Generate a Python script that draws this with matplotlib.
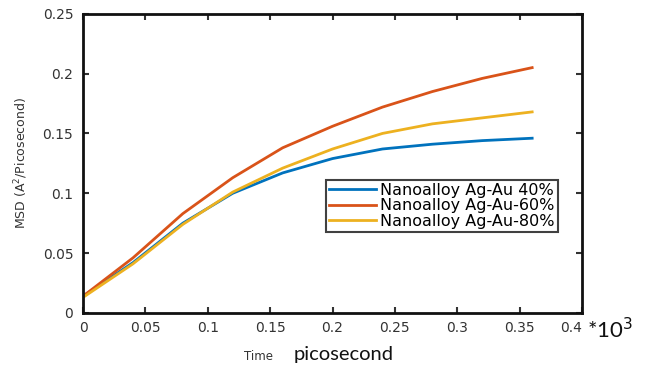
import numpy as np
import matplotlib
matplotlib.use('Agg')
import matplotlib.pyplot as plt
import matplotlib.transforms as mtransforms

# time in units of 10^3 ps
time = [0, 0.04, 0.08, 0.12, 0.16, 0.20, 0.24, 0.28, 0.32, 0.36]
msd_40 = [0.014, 0.042, 0.075, 0.100, 0.117, 0.129, 0.137, 0.141, 0.144, 0.146]
msd_60 = [0.014, 0.046, 0.083, 0.113, 0.138, 0.156, 0.172, 0.185, 0.196, 0.205]
msd_80 = [0.013, 0.041, 0.074, 0.101, 0.121, 0.137, 0.150, 0.158, 0.163, 0.168]
labels = ['Nanoalloy Ag-Au 40%', 'Nanoalloy Ag-Au-60%', 'Nanoalloy Ag-Au-80%']
colors = ['#0072BD', '#D95319', '#EDB120']

plt.rcParams['font.family'] = ['DejaVu Sans']

fig = plt.figure(figsize=(6.54, 3.83), dpi=100)
ax = fig.add_axes([0.127, 0.183, 0.763, 0.781])

for y, lab, c in zip([msd_40, msd_60, msd_80], labels, colors):
    ax.plot(time, y, color=c, lw=2.0, label=lab)

ax.set_xlim(0, 0.4)
ax.set_ylim(0, 0.25)
ax.set_xticks(np.arange(0, 0.41, 0.05))
ax.set_yticks(np.arange(0, 0.251, 0.05))
ax.set_xticklabels(['0', '0.05', '0.1', '0.15', '0.2', '0.25', '0.3', '0.35', '0.4'])
ax.set_yticklabels(['0', '0.05', '0.1', '0.15', '0.2', '0.25'])
ax.tick_params(direction='in', top=True, right=True, length=4, width=1.5,
               labelsize=10, colors='#333333', pad=6)
ax.tick_params(axis='y', pad=7)
for s in ax.spines.values():
    s.set_linewidth(2.0)
    s.set_color('#111111')

# nudge the last x label left so it clears the multiplier text
last = ax.get_xticklabels()[-1]
last.set_transform(last.get_transform() +
                   mtransforms.ScaledTranslation(-8 / 72, 0, fig.dpi_scale_trans))

ax.set_ylabel('MSD (A$^2$/Picosecond)', fontsize=9, color='#333333', labelpad=9)

leg = ax.legend(loc='lower right', bbox_to_anchor=(0.952, 0.271), borderaxespad=0,
                fontsize=11.5, fancybox=False, handlelength=2.9, handletextpad=0.3,
                labelspacing=0.02, borderpad=0.2)
leg.get_frame().set_edgecolor('#111111')
leg.get_frame().set_linewidth(1.5)

fig.text(0.396, 0.068, 'Time', fontsize=8.5, color='#333333', ha='center', va='center')
fig.text(0.525, 0.075, 'picosecond', fontsize=14.5, family=['Lato', 'DejaVu Sans'],
         color='#111111', ha='center', va='center')
fig.text(0.897, 0.140, '*10$^3$', fontsize=16, family=['Lato', 'DejaVu Sans'],
         color='#111111', ha='left', va='center')

fig.savefig('out.png', dpi=100)
